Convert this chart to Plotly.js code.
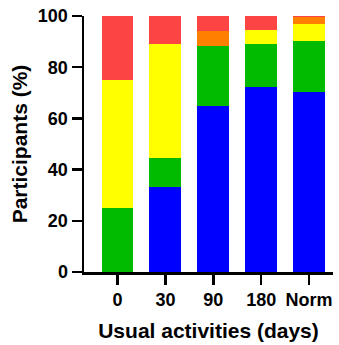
<!DOCTYPE html>
<html>
<head>
<meta charset="utf-8">
<script src="https://cdn.plot.ly/plotly-3.0.1.min.js"></script>
<style>
html,body{margin:0;padding:0;background:#fff;}
#chart{width:339px;height:345px;}
</style>
</head>
<body>
<div id="chart"></div>
<script>
const categories = ["0", "30", "90", "180", "Norm"];
const blueValues   = [0,    33.3, 64.7, 72.2, 70.2];
const greenValues  = [25.0, 11.1, 23.5, 16.7, 20.0];
const yellowValues = [50.0, 44.5, 0,    5.6,  6.8];
const orangeValues = [0,    0,    5.9,  0,    2.5];
const redValues    = [25.0, 11.1, 5.9,  5.5,  0.5];
const tickVals = [0, 20, 40, 60, 80, 100];

const series = [
  {name: "blue",   y: blueValues,   color: "#0000ff"},
  {name: "green",  y: greenValues,  color: "#00bb00"},
  {name: "yellow", y: yellowValues, color: "#ffff00"},
  {name: "orange", y: orangeValues, color: "#ff7f00"},
  {name: "red",    y: redValues,    color: "#fc4444"}
];

const data = series.map(s => ({
  type: "bar",
  x: categories.map((c, i) => i),
  y: s.y,
  name: s.name,
  width: 0.667,
  marker: {color: s.color, line: {width: 0}},
  hoverinfo: "skip"
}));

const tickFont = {family: "Liberation Sans, Arial, sans-serif", size: 18, color: "#000", weight: "bold"};
const titleFont = {family: "Liberation Sans, Arial, sans-serif", size: 21, color: "#000", weight: "bold"};

const layout = {
  width: 339, height: 345,
  margin: {l: 84, r: 6, t: 16, b: 73},
  barmode: "stack",
  showlegend: false,
  paper_bgcolor: "#fff",
  plot_bgcolor: "#fff",
  xaxis: {
    range: [-0.7, 4.5],
    tickmode: "array",
    tickvals: categories.map((c, i) => i),
    ticktext: categories,
    ticks: "outside", ticklen: 10, tickwidth: 2.5, tickcolor: "#000",
    showline: true, linecolor: "#000", linewidth: 2.5,
    showgrid: false, zeroline: false,
    tickfont: tickFont,
    title: {text: "Usual activities (days)", font: titleFont, standoff: 14}
  },
  yaxis: {
    range: [0, 100],
    tickmode: "array",
    tickvals: tickVals,
    ticktext: tickVals.map(String),
    ticks: "outside", ticklen: 10, tickwidth: 2.5, tickcolor: "#000",
    showline: true, linecolor: "#000", linewidth: 2.5,
    showgrid: false, zeroline: false,
    tickfont: tickFont,
    title: {text: "Participants (%)", font: titleFont, standoff: 5}
  }
};

Plotly.newPlot("chart", data, layout, {displayModeBar: false, staticPlot: true});
</script>
</body>
</html>
